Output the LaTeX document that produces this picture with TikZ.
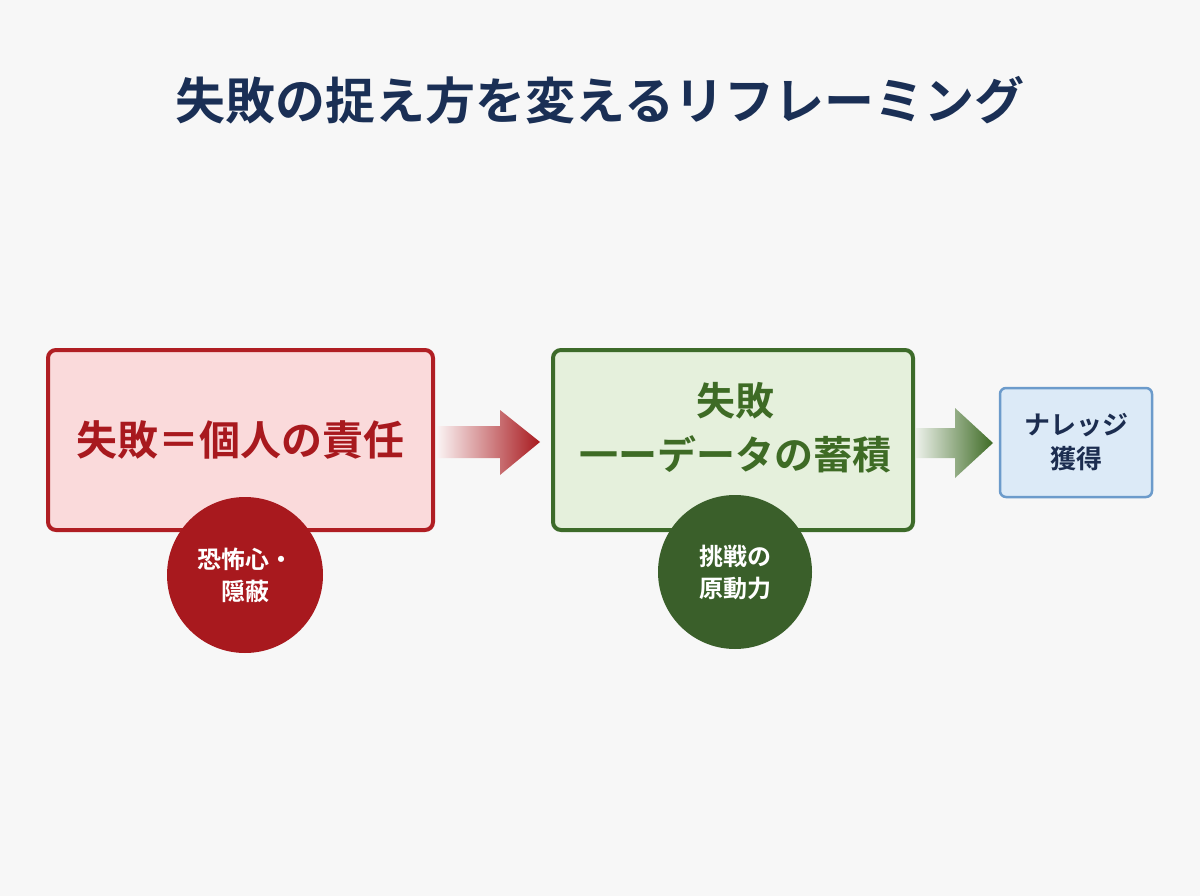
\documentclass[tikz,border=0pt]{standalone}
\usepackage{fontspec}
\setmainfont{Noto Sans CJK JP}[BoldFont={Noto Sans CJK JP Bold}]
\usetikzlibrary{shapes.geometric}
\definecolor{bg}{HTML}{F7F7F7}
\definecolor{navy}{HTML}{1A2F55}
\definecolor{dred}{HTML}{A8191E}
\definecolor{rbord}{HTML}{B01E23}
\definecolor{rfill}{HTML}{FADADB}
\definecolor{dgreen}{HTML}{3E6B25}
\definecolor{gbord}{HTML}{3D6B2A}
\definecolor{gfill}{HTML}{E5F0DC}
\definecolor{gcirc}{HTML}{3A5F2A}
\definecolor{bfill}{HTML}{DCEAF7}
\definecolor{bbord}{HTML}{6C9BCB}
\definecolor{bnavy}{HTML}{1C2D50}
\begin{document}
\begin{tikzpicture}[x=1pt,y=-1pt,
 box/.style={draw, line width=4pt, rounded corners=8pt, inner sep=0pt, font=\bfseries},
 circ/.style={circle, inner sep=0pt, text=white, font=\bfseries\fontsize{24}{32}\selectfont, align=center}]
\fill[bg] (0,0) rectangle (1200,896);
\node[font=\bfseries\fontsize{50}{58}\selectfont, text=navy] (title) at (600,100) {失敗の捉え方を変えるリフレーミング};
% red arrow
\shade[left color=dred!5, right color=dred, shading angle=90]
  (437,426) -- (500,426) -- (500,410) -- (540,442) -- (500,475) -- (500,458) -- (437,458) -- cycle;
% green arrow
\shade[left color=dgreen!10, right color=dgreen]
  (916,428) -- (955,428) -- (955,408) -- (993,443) -- (955,478) -- (955,458) -- (916,458) -- cycle;
\node[box, draw=rbord, fill=rfill, minimum width=385pt, minimum height=180pt, text=dred, font=\bfseries\fontsize{41}{48}\selectfont] (a) at (240.5,440) {失敗＝個人の責任};
\node[circ, fill=dred, minimum size=156pt] (ac) at (245,575) {恐怖心・\\隠蔽};
\node[box, draw=gbord, fill=gfill, minimum width=360pt, minimum height=180pt] (b) at (733,440) {};
\node[text=dgreen, align=center, font=\bfseries\fontsize{39}{54}\selectfont] (bt) at (735,428) {失敗\\一ーデータの蓄積};
\node[circ, fill=gcirc, minimum size=154pt] (bc) at (735,572) {挑戦の\\原動力};
\node[box, draw=bbord, line width=2.5pt, rounded corners=6pt, fill=bfill, minimum width=152pt, minimum height=109pt, text=bnavy, align=center, font=\bfseries\fontsize{26}{34}\selectfont] (c) at (1076,442.5) {ナレッジ\\獲得};
\end{tikzpicture}
\end{document}
